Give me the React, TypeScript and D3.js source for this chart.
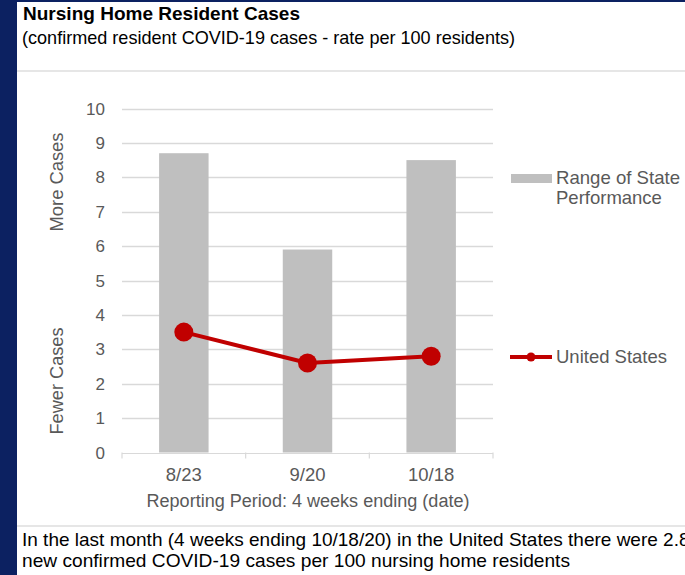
import React, { useEffect } from "react";
import * as d3 from "d3";

const categories = ["8/23", "9/20", "10/18"];
const stateRangeMax = [8.7, 5.9, 8.5];
const usValues = [3.5, 2.6, 2.8];
const yTicks = [0, 1, 2, 3, 4, 5, 6, 7, 8, 9, 10];

const W = 685;
const H = 575;
const NAVY = "#0c2161";
const GRID = "#d9d9d9";
const TEXT_GRAY = "#595959";
const BAR = "#bfbfbf";
const RED = "#c00000";
const FONT = "'Liberation Sans', Arial, sans-serif";

export default function App() {
  useEffect(() => {
    document.body.style.margin = "0";
  }, []);

  const x = d3
    .scaleBand<string>()
    .domain(categories)
    .range([122, 493])
    .paddingInner(0.6)
    .paddingOuter(0.3);
  const y = d3.scaleLinear().domain([0, 10]).range([452.5, 108.5]);
  const step = x.step();
  const bw = x.bandwidth();
  const cx = (c: string) => (x(c) as number) + bw / 2;

  const line = d3
    .line<number>()
    .x((_, i) => cx(categories[i]))
    .y((d) => y(d));

  const boundaries = d3.range(categories.length + 1).map((i) => 122 + i * step);

  return (
    <svg width={W} height={H} style={{ display: "block", fontFamily: FONT }}>
      <rect x={0} y={0} width={W} height={H} fill="#ffffff" />
      <rect x={0} y={0} width={17} height={H} fill={NAVY} />
      <rect x={0} y={0} width={W} height={2} fill={NAVY} />

      {/* header */}
      <text x={23} y={20} fontSize={19} fontWeight="bold" fill="#000" textLength={277} lengthAdjust="spacingAndGlyphs">
        Nursing Home Resident Cases
      </text>
      <text x={22} y={44} fontSize={19} fill="#000" textLength={493} lengthAdjust="spacingAndGlyphs">
        (confirmed resident COVID-19 cases - rate per 100 residents)
      </text>
      <rect x={17} y={70} width={W - 17} height={2} fill="#e6e6e6" />

      {/* gridlines */}
      {yTicks.map((t) => (
        <line
          key={t}
          x1={122}
          x2={493}
          y1={Math.round(y(t)) + 0.5}
          y2={Math.round(y(t)) + 0.5}
          stroke={GRID}
          strokeWidth={t === 0 ? 1.2 : 1.5}
        />
      ))}
      {boundaries.map((bx, i) => (
        <line key={i} x1={bx} x2={bx} y1={y(0)} y2={y(0) + 6} stroke={GRID} strokeWidth={1.2} />
      ))}

      {/* y tick labels */}
      {yTicks.map((t) => (
        <text
          key={t}
          x={105}
          y={y(t) + 6}
          fontSize={17}
          textAnchor="end"
          fill={TEXT_GRAY}
        >
          {t}
        </text>
      ))}

      {/* y axis side labels */}
      <text
        transform={`translate(63,182) rotate(-90)`}
        fontSize={18.5}
        textAnchor="middle"
        fill={TEXT_GRAY}
        textLength={99}
        lengthAdjust="spacingAndGlyphs"
      >
        More Cases
      </text>
      <text
        transform={`translate(63,381) rotate(-90)`}
        fontSize={18.5}
        textAnchor="middle"
        fill={TEXT_GRAY}
        textLength={107}
        lengthAdjust="spacingAndGlyphs"
      >
        Fewer Cases
      </text>

      {/* bars */}
      {categories.map((c, i) => (
        <rect
          key={c}
          x={x(c)}
          y={y(stateRangeMax[i])}
          width={bw}
          height={y(0) - y(stateRangeMax[i])}
          fill={BAR}
        />
      ))}

      {/* US line */}
      <path d={line(usValues) || ""} fill="none" stroke={RED} strokeWidth={4} />
      {usValues.map((v, i) => (
        <circle key={i} cx={cx(categories[i])} cy={y(v)} r={9.5} fill={RED} />
      ))}

      {/* x labels */}
      {categories.map((c) => (
        <text key={c} x={cx(c)} y={481} fontSize={18.5} textAnchor="middle" fill={TEXT_GRAY}>
          {c}
        </text>
      ))}
      <text x={308} y={507} fontSize={18} textAnchor="middle" fill={TEXT_GRAY} textLength={323} lengthAdjust="spacingAndGlyphs">
        Reporting Period: 4 weeks ending (date)
      </text>

      {/* legend */}
      <rect x={511} y={174} width={41} height={9} fill={BAR} />
      <text x={556} y={184} fontSize={18.5} fill={TEXT_GRAY} textLength={124} lengthAdjust="spacingAndGlyphs">
        Range of State
      </text>
      <text x={556} y={204} fontSize={18.5} fill={TEXT_GRAY}>
        Performance
      </text>
      <line x1={510} x2={552} y1={357} y2={357} stroke={RED} strokeWidth={4} />
      <circle cx={531} cy={357} r={4.5} fill={RED} />
      <text x={556} y={363} fontSize={18.5} fill={TEXT_GRAY} textLength={111} lengthAdjust="spacingAndGlyphs">
        United States
      </text>

      {/* footer */}
      <rect x={17} y={525} width={W - 17} height={2} fill="#e6e6e6" />
      <text x={22} y={546} fontSize={19} fill="#000">
        In the last month (4 weeks ending 10/18/20) in the United States there were 2.8
      </text>
      <text x={22} y={567} fontSize={19} fill="#000" textLength={548} lengthAdjust="spacingAndGlyphs">
        new confirmed COVID-19 cases per 100 nursing home residents
      </text>
    </svg>
  );
}
